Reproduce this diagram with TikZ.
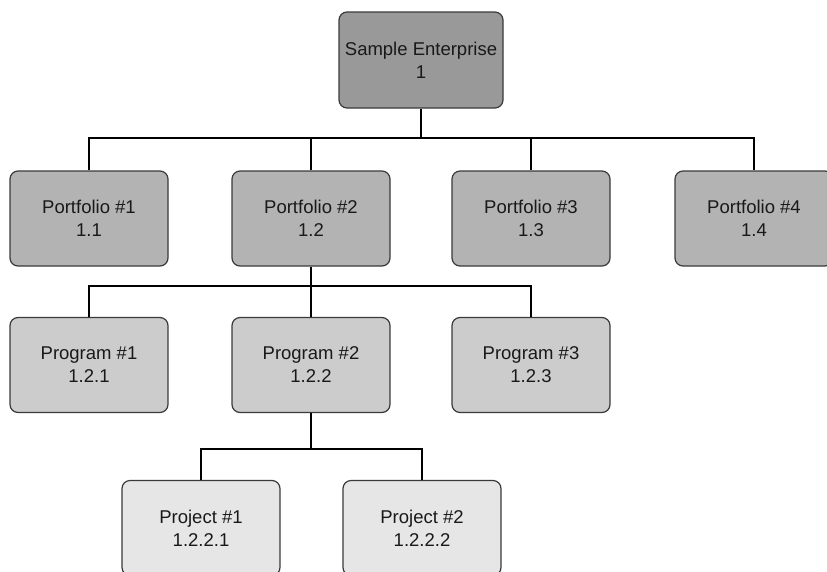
\documentclass[tikz,border=0pt]{standalone}
\usepackage{fontspec}
\setmainfont{Liberation Sans}
\definecolor{entgray}{HTML}{999999}
\definecolor{portgray}{HTML}{B3B3B3}
\definecolor{proggray}{HTML}{CCCCCC}
\definecolor{projgray}{HTML}{E6E6E6}
\definecolor{boxline}{HTML}{3A3A3A}
\tikzset{
  wbsbox/.style={draw=boxline, line width=1.2pt, rounded corners=8pt,
    minimum width=158pt, minimum height=95pt, align=center,
    font=\fontsize{18.5}{23}\selectfont, text=black!90},
  wbsline/.style={line width=1.5pt, black}
}
\begin{document}
\begin{tikzpicture}[x=1pt, y=-1pt]
            \useasboundingbox (0,0) rectangle (827,571);
            \clip (0,0) rectangle (827,571);

            %livello 1
            \node [wbsbox, fill=entgray, minimum width=164pt, minimum height=96pt] (ent) at (421,60) {Sample Enterprise\\1};

            %livello 2
            \node [wbsbox, fill=portgray] (port1) at (89,218.5) {Portfolio \#1\\1.1};
            \node [wbsbox, fill=portgray] (port2) at (311,218.5) {Portfolio \#2\\1.2};
            \node [wbsbox, fill=portgray] (port3) at (531,218.5) {Portfolio \#3\\1.3};
            \node [wbsbox, fill=portgray] (port4) at (754,218.5) {Portfolio \#4\\1.4};

            %livello 3
            \node [wbsbox, fill=proggray] (prog1) at (89,365) {Program \#1\\1.2.1};
            \node [wbsbox, fill=proggray] (prog2) at (311,365) {Program \#2\\1.2.2};
            \node [wbsbox, fill=proggray] (prog3) at (531,365) {Program \#3\\1.2.3};

            %livello 4
            \node [wbsbox, fill=projgray] (proj1) at (201,528) {Project \#1\\1.2.2.1};
            \node [wbsbox, fill=projgray] (proj2) at (422,528) {Project \#2\\1.2.2.2};

            %collegamenti
            \coordinate (bus1) at (421,138);
            \coordinate (bus2) at (311,286);
            \coordinate (bus3) at (311,449);
            \draw [wbsline] (ent.south) -- (bus1);
            \draw [wbsline] (port1.north) |- (bus1) -| (port4.north);
            \draw [wbsline] (port2.north) -- (port2.north |- bus1);
            \draw [wbsline] (port3.north) -- (port3.north |- bus1);

            \draw [wbsline] (port2.south) -- (bus2);
            \draw [wbsline] (prog1.north) |- (bus2) -| (prog3.north);
            \draw [wbsline] (prog2.north) -- (bus2);

            \draw [wbsline] (prog2.south) -- (bus3);
            \draw [wbsline] (proj1.north) |- (bus3) -| (proj2.north);

        \end{tikzpicture}
\end{document}
